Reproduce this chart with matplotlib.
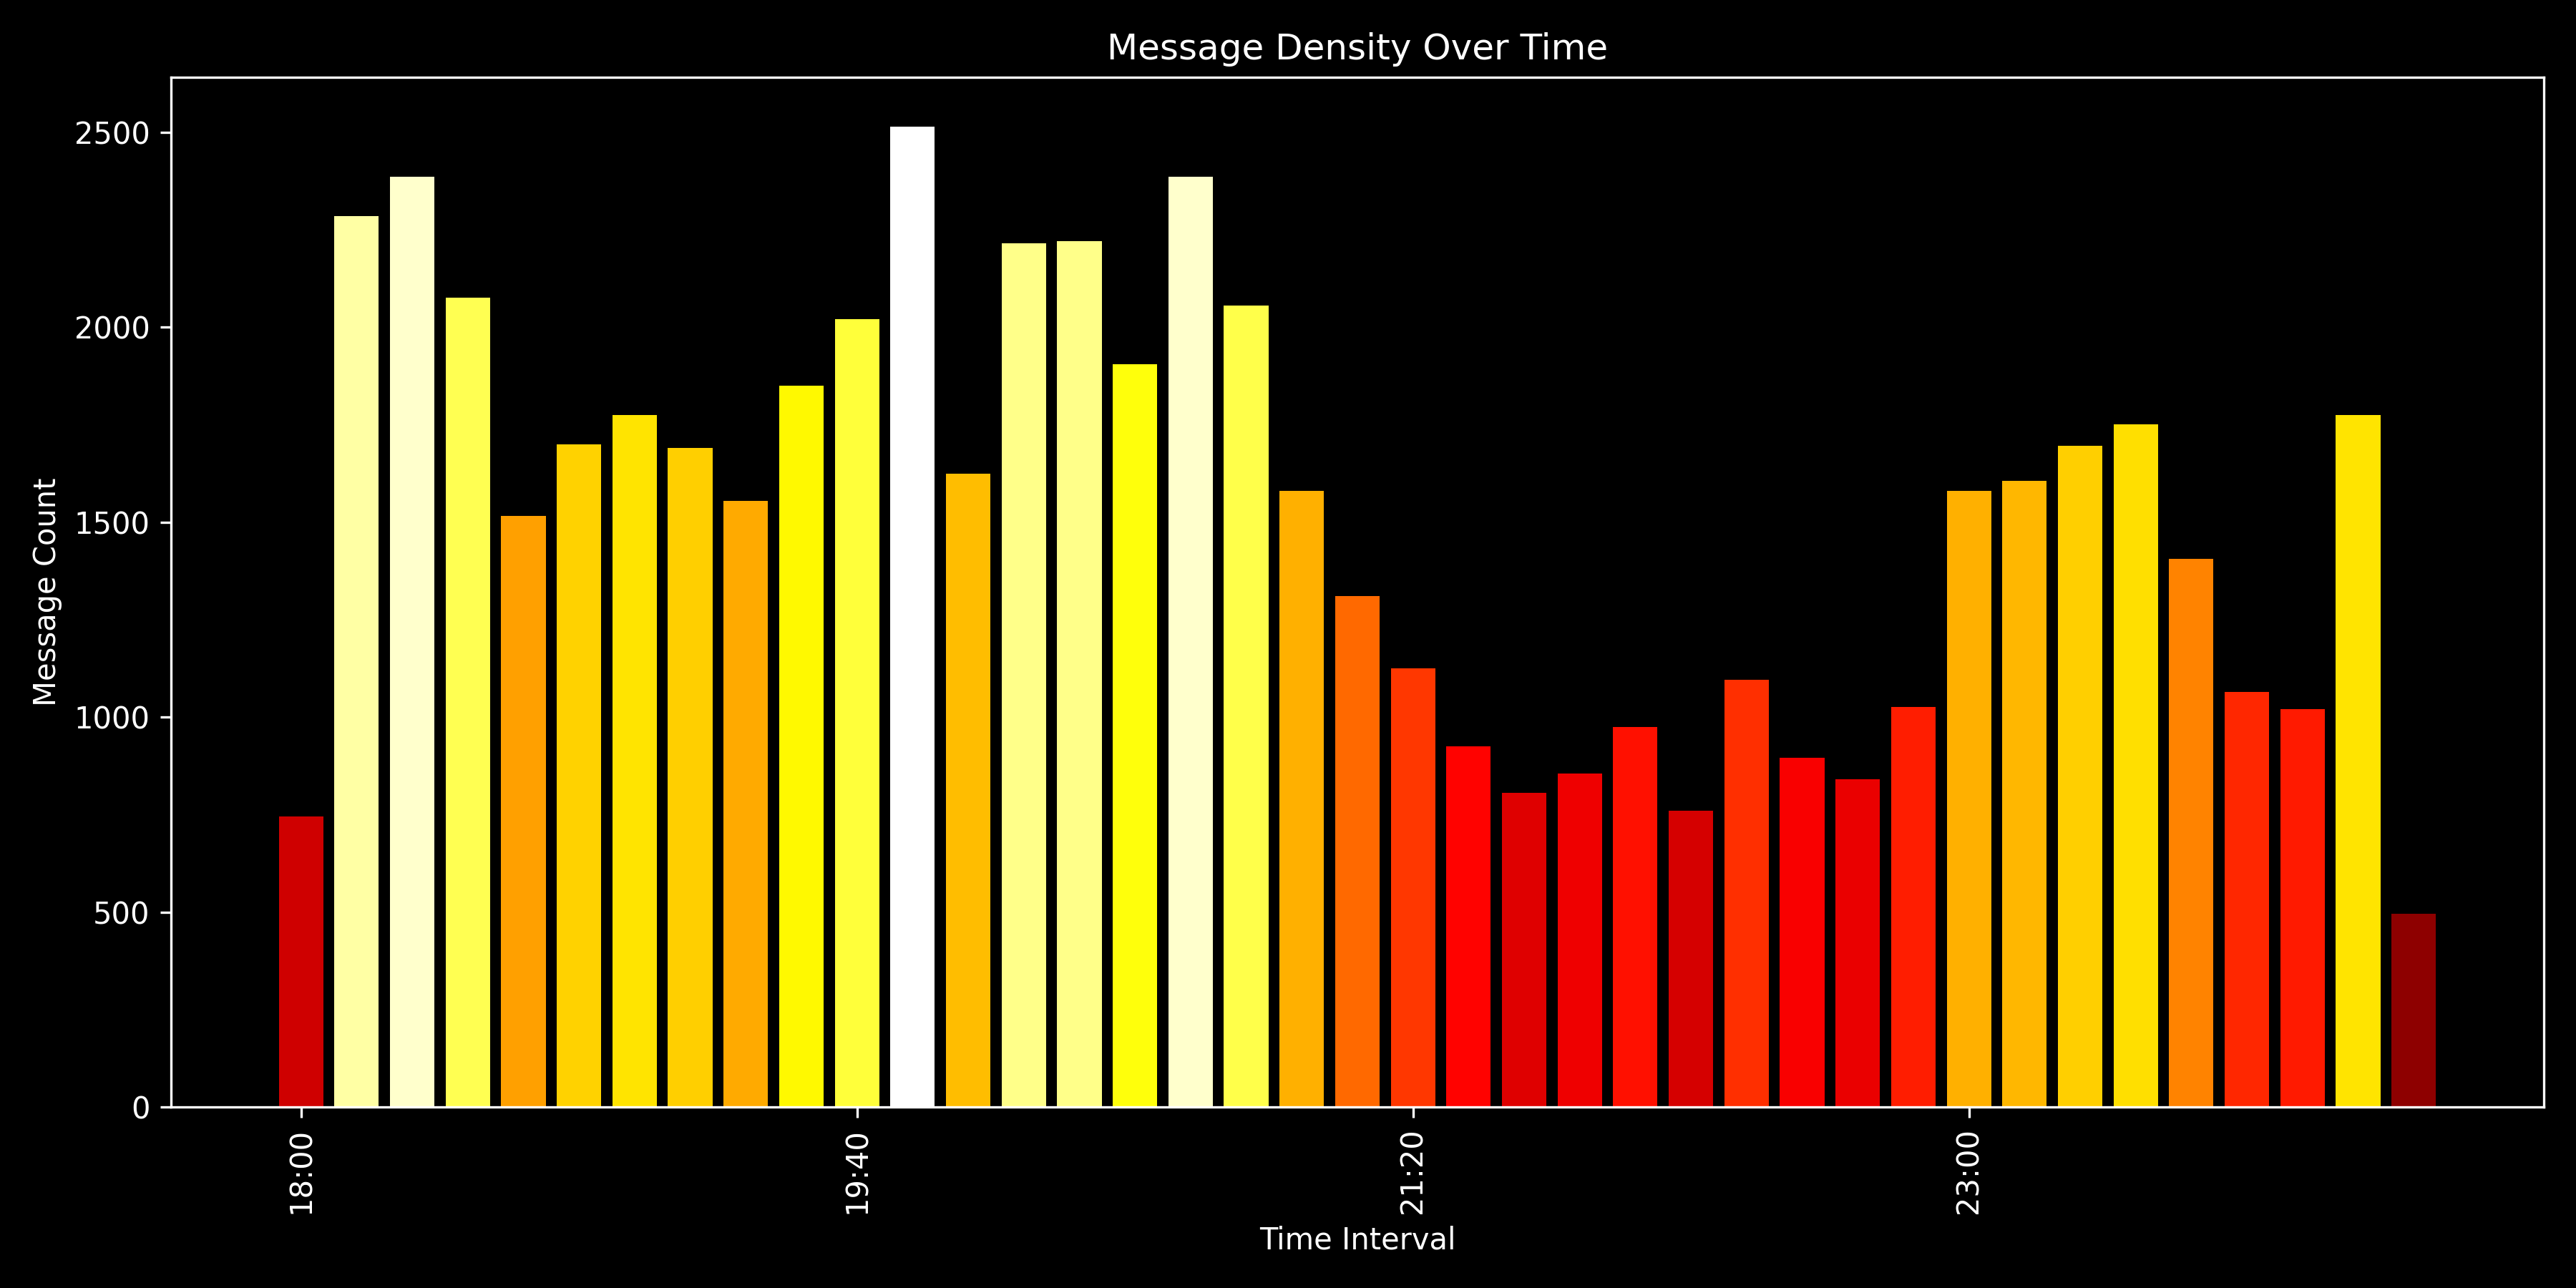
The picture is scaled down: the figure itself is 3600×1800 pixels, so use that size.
import matplotlib
matplotlib.use("Agg")
import matplotlib.pyplot as plt
import matplotlib.dates as mdates
import numpy as np
from datetime import datetime, timedelta

plt.style.use("dark_background")

start = datetime(2024, 1, 1, 18, 0)
counts = [745, 2285, 2385, 2075, 1515, 1700, 1775, 1690, 1555, 1850,
          2020, 2515, 1625, 2215, 2220, 1905, 2385, 2055, 1580, 1310,
          1125, 925, 805, 855, 975, 760, 1095, 895, 840, 1025,
          1580, 1605, 1695, 1750, 1405, 1065, 1020, 1775, 495]
times = [start + timedelta(minutes=10 * i) for i in range(len(counts))]
tick_times = [times[0], times[10], times[20], times[30]]

fig, ax = plt.subplots(figsize=(12, 6), dpi=300)
vals = np.array(counts, dtype=float)
colors = plt.cm.hot(vals / vals.max())
ax.bar(mdates.date2num(times), vals, width=8 / 1440, color=colors)
ax.xaxis_date()
ax.set_xticks(mdates.date2num(tick_times))
ax.xaxis.set_major_formatter(mdates.DateFormatter("%H:%M"))
plt.setp(ax.get_xticklabels(), rotation=90)
ax.set_title("Message Density Over Time")
ax.set_xlabel("Time Interval")
ax.set_ylabel("Message Count")
fig.tight_layout()
fig.savefig("out.png", dpi=300)
